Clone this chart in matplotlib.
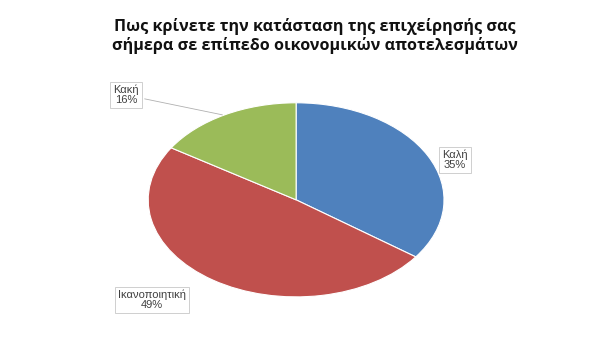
import matplotlib.pyplot as plt

labels = ['Καλή', 'Ικανοποιητική', 'Κακή']
values = [35, 49, 16]
colors = ['#4F81BD', '#C0504D', '#9BBB59']
title = 'Πως κρίνετε την κατάσταση της επιχείρησής σας\nσήμερα σε επίπεδο οικονομικών αποτελεσμάτων'

fig = plt.figure(figsize=(6, 3.37), dpi=100)
fig.patch.set_facecolor('white')

# squashed pie: axes not equal aspect
ax = fig.add_axes([0.247, 0.119, 0.493, 0.576])
wedges, _ = ax.pie(values, colors=colors, startangle=90, counterclock=False,
                   wedgeprops={'linewidth': 0.8, 'edgecolor': 'white'})
ax.set_aspect('auto')
ax.set_xlim(-1, 1)
ax.set_ylim(-1, 1)
ax.axis('off')

fig.text(0.525, 0.893, title, ha='center', va='center', fontsize=11.6,
         fontweight='bold', family='Open Sans', linespacing=1.1, color='#111111')

# label positions in axes data units (outside the pie)
label_pos = [(1.074, 0.41), (-0.973, -1.03), (-1.15, 1.08)]
anchor_pts = [(0.95, 0.38), (-0.6, -0.85), (-0.48, 0.87)]
bbox = dict(boxstyle='square,pad=0.25', fc='white', ec='#c8c8c8', lw=0.6)
for i in range(len(labels)):
    txt = '{}\n{}%'.format(labels[i], values[i])
    if i == 2:
        ax.annotate(txt, xy=anchor_pts[i], xytext=label_pos[i],
                    ha='center', va='center', fontsize=8, color='#404040',
                    family='Liberation Sans', bbox=bbox, annotation_clip=False,
                    linespacing=1.05,
                    arrowprops=dict(arrowstyle='-', color='#b0b0b0', lw=0.6))
    else:
        ax.text(label_pos[i][0], label_pos[i][1], txt, ha='center', va='center',
                fontsize=8, color='#404040', family='Liberation Sans', bbox=bbox,
                linespacing=1.05, clip_on=False)

fig.savefig('out.png', dpi=100)
